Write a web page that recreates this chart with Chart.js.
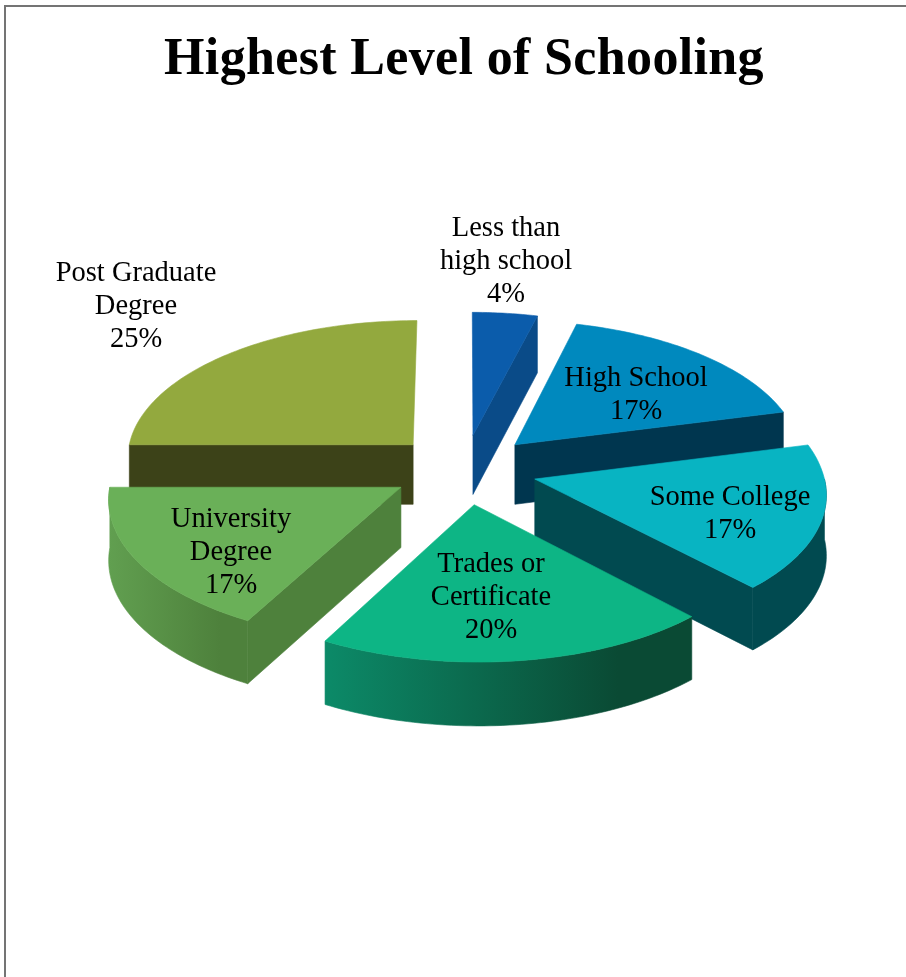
<!DOCTYPE html>
<html>
<head>
<meta charset="utf-8">
<title>Highest Level of Schooling</title>
<script src="https://cdn.jsdelivr.net/npm/chart.js@4/dist/chart.umd.min.js"></script>
<style>
  html, body { margin: 0; padding: 0; background: #fff; overflow: hidden; }
  #frame {
    position: absolute; left: 4px; top: 5px; right: -4px; bottom: -4px;
    border: 2px solid #747474;
  }
  #wrap { position: absolute; left: 0; top: 0; width: 906px; height: 977px; }
</style>
</head>
<body>
<div id="frame"></div>
<div id="wrap"><canvas id="chart" width="906" height="977"></canvas></div>
<script>
const chartTitle = "Highest Level of Schooling";
const categories = ["Less than high school", "High School", "Some College", "Trades or Certificate", "University Degree", "Post Graduate Degree"];
const labelLines = [["Less than", "high school"], ["High School"], ["Some College"], ["Trades or", "Certificate"], ["University", "Degree"], ["Post Graduate", "Degree"]];
const shares = [4, 17, 17, 20, 17, 25];

const topColors = ["#0B5CAB", "#0089BE", "#08B4C2", "#0DB585", "#6AB058", "#93A93E"];
const cutColors = ["#0A4B88", "#00364F", "#014A50", "#0A7A5A", "#4E813C", "#3C4218"];
const wallLeft = ["#0A4B88", "#00364F", "#014A50", "#0C8A68", "#619F50", "#3C4218"];
const wallRight = ["#0A4B88", "#00364F", "#014A50", "#0A4A34", "#4E813C", "#3C4218"];

// label centres, measured from the middle of the pie
const labelSpots = [[42, -208], [172, -74], [266, 45], [27, 128], [-233, 83], [-328, -163]];

const tilt = 0.48;
const viewDist = 3500;
const frontLean = 0.012;
const thickness = 60;
const labelFont = "28.5px 'Liberation Serif'";
const lineGap = 33;

// ground plane to screen, nearer points come out larger and lean right a little
function project(cx, cy, dx, dv) {
  const s = viewDist / (viewDist - dv);
  return [cx + dx * s + Math.max(dv, 0) * frontLean, cy + tilt * dv * s];
}

function paintPoly(ctx, pts, paint) {
  ctx.beginPath();
  pts.forEach((p, i) => (i ? ctx.lineTo(p[0], p[1]) : ctx.moveTo(p[0], p[1])));
  ctx.closePath();
  ctx.fillStyle = paint;
  ctx.strokeStyle = paint;
  ctx.lineWidth = 0.6;
  ctx.fill();
  ctx.stroke();
}

function arcPoints(arc, from, to) {
  const mid = (arc.startAngle + arc.endAngle) / 2;
  const shift = (arc.options.offset || 0) / 2;
  const ox = Math.cos(mid) * shift;
  const oy = Math.sin(mid) * shift;
  const steps = Math.max(2, Math.ceil((to - from) / 0.02));
  const pts = [];
  for (let i = 0; i <= steps; i++) {
    const a = from + ((to - from) * i) / steps;
    pts.push(project(arc.x, arc.y, ox + Math.cos(a) * arc.outerRadius, oy + Math.sin(a) * arc.outerRadius));
  }
  return { pts, apex: project(arc.x, arc.y, ox, oy) };
}

// extruded slices, back ones first, replacing the flat arcs
const pie3d = {
  id: "pie3d",
  beforeDraw(chart) {
    chart.ctx.letterSpacing = "0.35px"; // picked up by the title box
  },
  beforeDatasetsDraw(chart) {
    const ctx = chart.ctx;
    ctx.letterSpacing = "0px";
    const arcs = chart.getDatasetMeta(0).data.map((arc, i) => ({ arc, i }));
    arcs.sort((a, b) => Math.sin((a.arc.startAngle + a.arc.endAngle) / 2) - Math.sin((b.arc.startAngle + b.arc.endAngle) / 2));
    arcs.forEach(({ arc, i }) => {
      const down = (p) => [p[0], p[1] + thickness + (p[1] - arc.y) * 0.02];
      const { pts, apex } = arcPoints(arc, arc.startAngle, arc.endAngle);

      // only the cut faces turned towards the viewer
      if (Math.sin(arc.startAngle - Math.PI / 2) > 0.001) {
        paintPoly(ctx, [apex, pts[0], down(pts[0]), down(apex)], cutColors[i]);
      }
      const last = pts[pts.length - 1];
      if (Math.sin(arc.endAngle + Math.PI / 2) > 0.001) {
        paintPoly(ctx, [apex, last, down(last), down(apex)], cutColors[i]);
      }

      const from = Math.max(arc.startAngle, 0);
      const to = Math.min(arc.endAngle, Math.PI);
      if (to > from) {
        const rim = arcPoints(arc, from, to).pts;
        const xs = rim.map((p) => p[0]);
        const grad = ctx.createLinearGradient(Math.min(...xs), 0, Math.max(...xs), 0);
        grad.addColorStop(0, wallLeft[i]);
        grad.addColorStop(0.8, wallRight[i]);
        paintPoly(ctx, rim.concat(rim.slice().reverse().map(down)), grad);
      }

      paintPoly(ctx, [apex].concat(pts), topColors[i]);
    });
    return false;
  },
  afterDraw(chart) {
    const ctx = chart.ctx;
    const { x, y } = chart.getDatasetMeta(0).data[0];
    ctx.save();
    ctx.font = labelFont;
    ctx.fillStyle = "#000";
    ctx.textAlign = "center";
    ctx.textBaseline = "middle";
    shares.forEach((v, i) => {
      const lines = labelLines[i].concat(v + "%");
      const top = y + labelSpots[i][1] - ((lines.length - 1) * lineGap) / 2;
      lines.forEach((t, n) => ctx.fillText(t, x + labelSpots[i][0], top + n * lineGap));
    });
    ctx.restore();
  },
};

new Chart(document.getElementById("chart"), {
  type: "pie",
  data: {
    labels: categories,
    datasets: [{ data: shares, backgroundColor: topColors, borderWidth: 0, offset: 146 }],
  },
  options: {
    responsive: false,
    animation: false,
    radius: 288,
    layout: { padding: { left: 22, right: 0, top: 20, bottom: 146 } },
    plugins: {
      legend: { display: false },
      tooltip: { enabled: false },
      title: {
        display: true,
        text: chartTitle,
        color: "#000",
        font: { family: "'Liberation Serif'", size: 52, weight: "bold" },
        padding: { top: 9, bottom: 16 },
      },
    },
  },
  plugins: [pie3d],
});
</script>
</body>
</html>
